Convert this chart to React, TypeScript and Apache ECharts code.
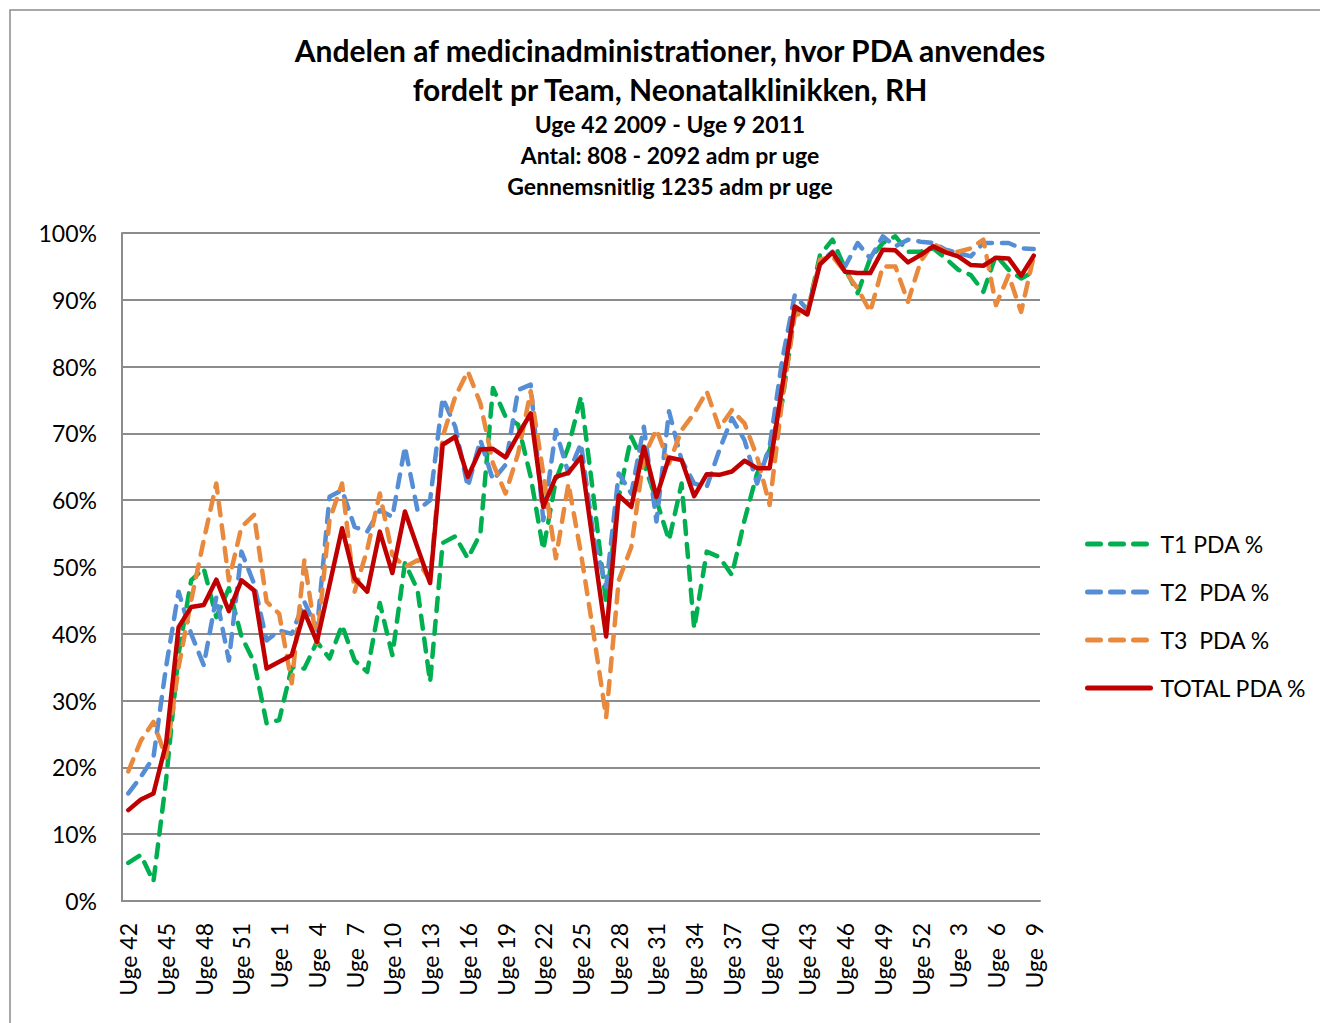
import React, { useEffect, useRef } from "react";
import * as echarts from "echarts";

const FONT = "Lato, 'Open Sans', sans-serif";

const weeks = [
  42, 43, 44, 45, 46, 47, 48, 49, 50, 51, 52, 53,
  1, 2, 3, 4, 5, 6, 7, 8, 9, 10, 11, 12, 13, 14, 15, 16, 17, 18, 19, 20, 21, 22, 23, 24, 25, 26,
  27, 28, 29, 30, 31, 32, 33, 34, 35, 36, 37, 38, 39, 40, 41, 42, 43, 44, 45, 46, 47, 48, 49, 50, 51, 52,
  1, 2, 3, 4, 5, 6, 7, 8, 9,
];
const categories = weeks.map((w) => (w < 10 ? "Uge  " + w : "Uge " + w));

const t1 = [
  5.7, 6.9, 2.9, 18, 37, 48, 49.8, 42.5, 46.8, 39.6, 35.8, 26.6,
  27.1, 35, 34.8, 38.8, 36.3, 41.3, 36, 34.3, 44.6, 36.8, 50.6, 46.6, 32.8, 53.6, 54.6, 51.3, 55, 76.8,
  72.5, 71.3, 63.5, 52.6, 63, 68, 75.5, 60.5, 44.6, 60.5, 69.5, 65.5, 60, 54, 62.5, 40.8, 52.3, 51.5, 48.8,
  57, 64, 67.5, 74.7, 88.2, 88, 96.7, 99, 94.7, 91, 96.2, 98.5, 99.5, 97.2, 97.2, 97.7, 96.2, 94.5, 93.7,
  91.2, 96.7, 94.5, 93.2, 94.2,
];
const t2 = [
  16.1, 18.6, 21.5, 35, 46.3, 40, 35.3, 45.5, 36, 52.3, 47.5, 39,
  40.5, 40, 44.8, 40.6, 60.5, 61.5, 56, 55.3, 58.5, 57.5, 68, 58.5, 60, 75.3, 71, 62, 69, 63,
  65.3, 76.5, 77.3, 57, 70.5, 64, 68.5, 54.5, 47, 64, 61, 71, 56.8, 73.3, 66, 62.5, 62, 67.5, 72.3,
  69, 62.5, 68, 81, 90.7, 88.5, 95.5, 97.2, 95, 98.5, 96.2, 99.5, 98, 99, 98.7, 98.5, 97.5, 97, 96.5,
  98.5, 98.5, 98.5, 97.7, 97.6,
];
const t3 = [
  19.4, 24, 26.8, 21.5, 35, 45, 54, 62.5, 48, 56, 57.8, 44.8,
  43, 32.6, 51, 38.6, 57, 62.5, 46.3, 52.6, 61, 51.8, 50, 51, 48, 69.5, 75.5, 79.3, 74.5, 65.5,
  61, 67, 76.3, 64, 51.3, 62.5, 52, 40, 27.5, 48, 53, 66.5, 70.6, 65.5, 70.5, 73, 76.3, 70.8, 73.5,
  71.5, 66.5, 59.3, 75, 87.7, 88.2, 96, 96.5, 94.2, 91.7, 88.2, 95, 95, 89.7, 95.7, 98.5, 97.2, 97.2, 97.7,
  99, 89.2, 93.7, 88.2, 96.5,
];
const total = [
  13.6, 15.2, 16.1, 23.5, 41, 44, 44.3, 48.1, 43.4, 48, 46.5, 34.8,
  35.8, 36.8, 43.3, 38.8, 47.3, 55.8, 48.3, 46.3, 55.3, 49.1, 58.3, 52.9, 47.6, 68.3, 69.5, 63.5, 67.6, 67.7,
  66.4, 69.8, 73, 59, 63.5, 64.1, 66.5, 53, 39.6, 60.7, 59, 68, 60.5, 66.4, 66, 60.6, 63.9, 63.8, 64.3,
  65.9, 64.8, 64.8, 77, 89, 87.8, 95.3, 97.1, 94.2, 94, 94, 97.5, 97.4, 95.6, 96.7, 98, 97.1, 96.5, 95.2,
  95.1, 96.3, 96.2, 93.6, 96.6,
];

const seriesNames = ["T1 PDA %", "T2  PDA %", "T3  PDA %", "TOTAL PDA %"];
const seriesColors = ["#00B050", "#558ED5", "#E8893D", "#C00000"];

const titleLines = [
  "Andelen af medicinadministrationer, hvor PDA anvendes",
  "fordelt pr Team, Neonatalklinikken, RH",
];
const subtitleLines = [
  "Uge 42 2009 - Uge 9 2011",
  "Antal: 808 - 2092 adm pr uge",
  "Gennemsnitlig 1235 adm pr uge",
];

export default function App() {
  const ref = useRef<HTMLDivElement>(null);
  useEffect(() => {
    document.body.style.margin = "0";
    const chart = echarts.init(ref.current!, null, { renderer: "svg" });
    const dataSets = [t1, t2, t3, total];
    const series = dataSets.map((d, i) => ({
      name: seriesNames[i],
      type: "line",
      data: d,
      symbol: "none",
      showSymbol: false,
      color: seriesColors[i],
      lineStyle: {
        color: seriesColors[i],
        width: 4.5,
        type: i < 3 ? [13, 10] : "solid",
        cap: "round",
        join: "round",
      },
      z: 2 + i,
    }));
    const titleGraphics: any[] = [];
    titleLines.forEach((t, i) => {
      titleGraphics.push({
        type: "text",
        x: 670,
        y: 50 + i * 39,
        silent: true,
        style: {
          text: t,
          fill: "#000",
          font: `bold 30px ${FONT}`,
          textAlign: "center",
          textVerticalAlign: "middle",
        },
      });
    });
    subtitleLines.forEach((t, i) => {
      titleGraphics.push({
        type: "text",
        x: 670,
        y: 124 + i * 31,
        silent: true,
        style: {
          text: t,
          fill: "#000",
          font: `bold 23px ${FONT}`,
          textAlign: "center",
          textVerticalAlign: "middle",
        },
      });
    });
    chart.setOption({
      animation: false,
      backgroundColor: "#fff",
      textStyle: { fontFamily: FONT },
      graphic: [
        {
          type: "rect",
          silent: true,
          z: -1,
          shape: { x: 10, y: 10, width: 1340, height: 1040 },
          style: { fill: "none", stroke: "#8c8c8c", lineWidth: 1.5 },
        },
        ...titleGraphics,
      ],
      grid: { left: 122, top: 233, right: 280, bottom: 122, containLabel: false },
      legend: {
        orient: "vertical",
        left: 1080,
        top: 527,
        itemWidth: 63,
        itemHeight: 24,
        itemGap: 24,
        data: seriesNames,
        itemStyle: { opacity: 0 },
        lineStyle: { width: 5, cap: "round" },
        textStyle: {
          fontFamily: FONT,
          fontSize: 23,
          color: "#000",
          lineHeight: 24,
          padding: [0, 0, 0, 5],
        },
      },
      xAxis: {
        type: "category",
        data: categories,
        boundaryGap: true,
        axisLine: { show: true, lineStyle: { color: "#8c8c8c", width: 2 } },
        axisTick: { show: false },
        axisLabel: {
          interval: 2,
          rotate: 90,
          margin: 22,
          fontSize: 23,
          color: "#000",
          fontFamily: FONT,
        },
        splitLine: { show: false },
      },
      yAxis: {
        type: "value",
        min: 0,
        max: 100,
        interval: 10,
        axisLine: { show: true, lineStyle: { color: "#8c8c8c", width: 2 } },
        axisTick: { show: false },
        axisLabel: {
          formatter: "{value}%",
          fontSize: 23,
          margin: 25,
          color: "#000",
          fontFamily: FONT,
        },
        splitLine: { show: true, lineStyle: { color: "#8c8c8c", width: 2 } },
      },
      series,
    });
    return () => chart.dispose();
  }, []);
  return <div ref={ref} style={{ width: 1320, height: 1023 }} />;
}
